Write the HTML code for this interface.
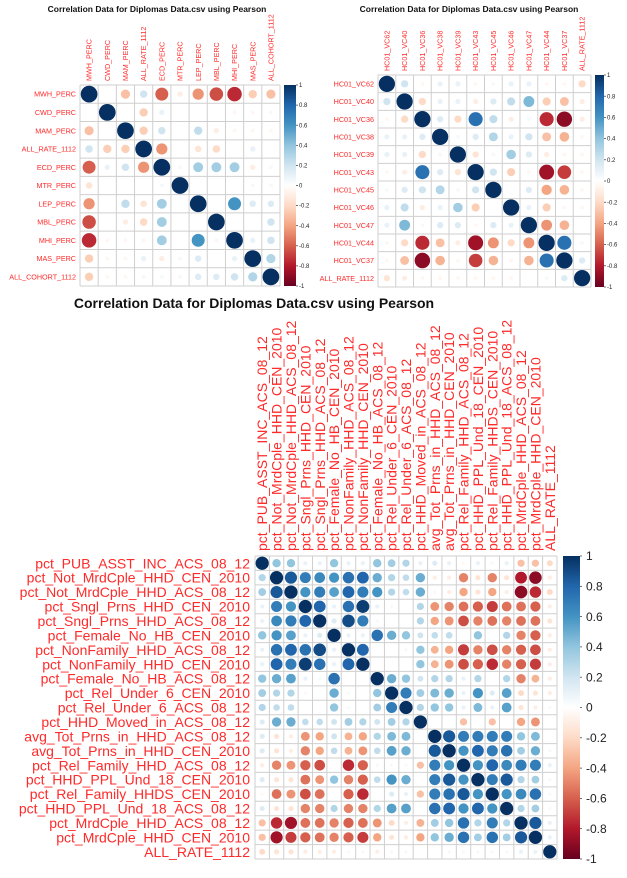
<!DOCTYPE html>
<html><head><meta charset="utf-8">
<style>
html,body{margin:0;padding:0;background:#fff;}
svg{display:block;font-family:"Liberation Sans",Arial,sans-serif;}
</style></head>
<body>
<svg id="root" width="627" height="878" viewBox="0 0 627 878">
<text x="157" y="12" font-size="8.5" font-weight="bold" text-anchor="middle" fill="#111">Correlation Data for Diplomas Data.csv using Pearson</text>
<text x="469" y="12" font-size="8.5" font-weight="bold" text-anchor="middle" fill="#111">Correlation Data for Diplomas Data.csv using Pearson</text>
<text x="254" y="308" font-size="14" font-weight="bold" text-anchor="middle" fill="#111">Correlation Data for Diplomas Data.csv using Pearson</text>
</svg>
<script>
// ---- Chart 1 data ----
const labels1 = ["MWH_PERC","CWD_PERC","MAM_PERC","ALL_RATE_1112","ECD_PERC","MTR_PERC","LEP_PERC","MBL_PERC","MHI_PERC","MAS_PERC","ALL_COHORT_1112"];
const corr1 = [
[1,0,-.3,.2,-.6,-.1,-.45,-.65,-.75,-.25,-.3],
[0,1,0,-.25,.1,0,0,0,-.05,-.05,-.05],
[-.3,0,1,-.25,.2,0,.25,-.1,-.05,-.05,-.05],
[.2,-.25,-.25,1,-.45,0,-.15,-.2,0,.1,0],
[-.6,.1,.2,-.45,1,.05,.35,.35,.35,-.1,.05],
[-.15,0,0,0,.05,1,0,0,0,.05,.05],
[-.45,0,.25,-.15,.35,0,1,0,.6,.15,.15],
[-.65,0,-.1,-.2,.35,0,0,1,0,0,.2],
[-.75,-.05,-.05,-.05,.35,0,.6,-.05,1,.1,.2],
[-.25,-.05,-.05,.1,-.1,.05,.15,0,.1,1,.3],
[-.25,-.05,-.05,.05,.05,.05,.15,.15,.2,.3,1]];
// ---- Chart 2 data ----
const labels2 = ["HC01_VC62","HC01_VC40","HC01_VC36","HC01_VC38","HC01_VC39","HC01_VC43","HC01_VC45","HC01_VC46","HC01_VC47","HC01_VC44","HC01_VC37","ALL_RATE_1112"];
const corr2 = [
[1,.2,-.05,.1,.1,-.05,.05,.1,.1,-.05,-.05,-.2],
[.2,1,-.2,.1,.1,-.1,.15,.25,.45,-.25,-.3,-.1],
[-.05,-.2,1,.15,-.2,.75,.25,-.1,.05,-.75,-.9,-.1],
[.1,.1,.15,1,.05,.15,.3,.1,.2,-.3,-.35,-.05],
[.1,.1,-.2,.05,1,-.15,.05,.35,.15,-.1,-.05,-.05],
[-.05,-.1,.75,.15,-.15,1,.2,-.25,-.05,-.85,-.7,-.05],
[.05,.15,.2,.3,.05,.2,1,0,.15,-.4,-.35,-.05],
[.1,.25,-.1,.1,.35,-.25,0,1,.1,-.25,-.05,-.05],
[.1,.45,.05,.15,.15,-.05,.15,.1,1,-.45,-.35,0],
[-.05,-.2,-.75,-.3,-.1,-.85,-.45,-.2,-.45,1,.75,.05],
[-.05,-.3,-.9,-.35,-.05,-.7,-.35,-.05,-.35,.75,1,.15],
[-.15,-.1,-.05,-.05,-.05,-.05,-.05,-.05,0,.05,.15,1]];
// ---- Chart 3 data ----
const labels3 = ["pct_PUB_ASST_INC_ACS_08_12","pct_Not_MrdCple_HHD_CEN_2010","pct_Not_MrdCple_HHD_ACS_08_12","pct_Sngl_Prns_HHD_CEN_2010","pct_Sngl_Prns_HHD_ACS_08_12","pct_Female_No_HB_CEN_2010","pct_NonFamily_HHD_ACS_08_12","pct_NonFamily_HHD_CEN_2010","pct_Female_No_HB_ACS_08_12","pct_Rel_Under_6_CEN_2010","pct_Rel_Under_6_ACS_08_12","pct_HHD_Moved_in_ACS_08_12","avg_Tot_Prns_in_HHD_ACS_08_12","avg_Tot_Prns_in_HHD_CEN_2010","pct_Rel_Family_HHD_ACS_08_12","pct_HHD_PPL_Und_18_CEN_2010","pct_Rel_Family_HHDS_CEN_2010","pct_HHD_PPL_Und_18_ACS_08_12","pct_MrdCple_HHD_ACS_08_12","pct_MrdCple_HHD_CEN_2010","ALL_RATE_1112"];
const corr3 = [
[1,.4,.4,.1,.1,.4,.1,.1,.4,.35,.3,.1,.15,.1,-.05,.1,-.05,.1,-.3,-.3,-.2],
[.3,1,.85,.7,.65,.6,.75,.8,.5,.3,.25,.5,-.1,-.1,-.5,-.15,-.5,-.15,-.8,-.9,-.1],
[.35,.85,1,.6,.7,.55,.8,.7,.6,.3,.25,.5,-.05,-.1,-.4,-.15,-.4,-.1,-.9,-.75,-.2],
[.1,.7,.6,1,.8,.1,.75,.95,.1,-.05,0,.3,-.45,-.5,-.55,-.6,-.7,-.55,-.55,-.6,-.1],
[.1,.65,.7,.8,1,.15,.9,.7,.05,0,0,.3,-.4,-.45,-.65,-.5,-.55,-.5,-.55,-.55,-.15],
[.4,.6,.55,.1,.15,1,.1,.1,.75,.5,.4,.2,.25,.25,0,.4,0,.3,-.5,-.6,-.1],
[.1,.75,.8,.75,.9,.1,1,.8,0,0,.05,.4,-.35,-.4,-.7,-.5,-.65,-.5,-.6,-.65,-.1],
[.1,.8,.7,.95,.75,.1,.8,1,0,0,0,.4,-.35,-.45,-.65,-.6,-.75,-.5,-.6,-.7,-.1],
[.4,.5,.55,.1,.05,.75,0,0,1,.5,.4,.2,.3,.3,.1,.3,0,.3,-.5,-.35,-.1],
[.35,.3,.3,-.05,0,.5,.05,0,.4,1,.7,.35,.45,.5,.1,.6,.15,.55,-.2,-.15,-.1],
[.3,.25,.25,0,0,.4,.05,0,.35,.7,1,.3,.4,.4,.1,.45,.1,.55,-.15,-.1,-.05],
[.15,.5,.5,.25,.25,.2,.35,.3,.2,.35,.3,1,0,0,-.3,0,-.3,0,-.4,-.45,0],
[.15,-.15,-.1,-.45,-.4,.2,-.35,-.4,.3,.45,.45,0,1,.85,.7,.7,.7,.7,.4,.45,0],
[.15,-.15,-.1,-.5,-.4,.25,-.35,-.45,.25,.55,.5,0,.85,1,.6,.8,.7,.75,.35,.5,.05],
[-.1,-.5,-.45,-.6,-.65,0,-.75,-.6,.05,.05,.05,-.3,.7,.6,1,.6,.8,.65,.7,.7,.1],
[.15,-.15,-.15,-.55,-.45,.4,-.5,-.6,.25,.6,.5,0,.7,.85,.6,1,.7,.85,.3,.35,.05],
[-.05,-.55,-.45,-.65,-.55,0,-.6,-.75,0,.15,.1,-.3,.7,.75,.85,.6,1,.6,.65,.75,.05],
[.15,-.15,-.15,-.5,-.5,.3,-.5,-.5,.3,.55,.55,0,.75,.8,.6,.8,.6,1,.3,.35,.05],
[-.3,-.75,-.85,-.55,-.55,-.5,-.6,-.55,-.45,-.2,-.1,-.35,.35,.4,.75,.3,.7,.3,1,.85,.1],
[-.3,-.85,-.7,-.6,-.55,-.5,-.6,-.7,-.4,-.15,-.1,-.4,.4,.5,.75,.35,.75,.35,.85,1,.1],
[-.2,-.15,-.15,-.1,-.1,-.1,-.05,-.05,-.1,-.05,-.05,0,0,.05,.05,.05,.05,.05,.1,.1,1]];
const colorTicks = [1,0.8,0.6,0.4,0.2,0,-0.2,-0.4,-0.6,-0.8,-1];

const NS="http://www.w3.org/2000/svg";
const root=document.getElementById('root');
const stops=["#67001F","#B2182B","#D6604D","#F4A582","#FDDBC7","#FFFFFF","#D1E5F0","#92C5DE","#4393C3","#2166AC","#053061"];
function hex(h){return [1,3,5].map(i=>parseInt(h.substr(i,2),16));}
function colorOf(v){
  const t=(Math.max(-1,Math.min(1,v))+1)/2*10;
  const i=Math.min(9,Math.floor(t)), f=t-i;
  const a=hex(stops[i]), b=hex(stops[i+1]);
  return "rgb("+a.map((c,k)=>Math.round(c+(b[k]-c)*f)).join(",")+")";
}
function mk(tag,attrs,parent){const e=document.createElementNS(NS,tag);for(const k in attrs)e.setAttribute(k,attrs[k]);(parent||root).appendChild(e);return e;}

function drawCorr(id,labels,corr,g){
  const n=labels.length;
  const cw=(g.x1-g.x0)/n, ch=(g.y1-g.y0)/n;
  const xAt=j=>g.x0+cw*(j+0.5), yAt=i=>g.y0+ch*(i+0.5);
  const grp=mk('g',{});
  
  
  for(let k=0;k<=n;k++){
    const v=mk('line',{x1:g.x0+cw*k,x2:g.x0+cw*k,y1:g.y0,y2:g.y1,stroke:'#cfcfcf','stroke-width':1},grp);
    
    
    const h=mk('line',{x1:g.x0,x2:g.x1,y1:g.y0+ch*k,y2:g.y0+ch*k,stroke:'#cfcfcf','stroke-width':1},grp);
    
    
  }
  for(let i=0;i<n;i++){
    const rl=mk('text',{x:g.x0-g.lpad,y:yAt(i)+g.fs*0.36,'font-size':g.fs,'text-anchor':'end',fill:'#ff2a2a'},grp);
    rl.textContent=labels[i];
    
    
    const cx=xAt(i)+g.fs*0.36, cy=g.y0-g.lpad;
    const cl=mk('text',{x:cx,y:cy,'font-size':g.fs,'text-anchor':'start',fill:'#ff2a2a',transform:'rotate(-90 '+cx+' '+cy+')'},grp);
    cl.textContent=labels[i];
    
    
    for(let j=0;j<n;j++){
      const v=corr[i][j];
      const r=Math.min(cw,ch)/2*0.92*Math.sqrt(Math.abs(v));
      if(r<0.3)continue;
      const c=mk('circle',{cx:xAt(j),cy:yAt(i),r:r,fill:colorOf(v)},grp);
      
      
    }
  }
  const defs=mk('defs',{},grp);
  const lg=mk('linearGradient',{id:id+'grad',x1:0,y1:0,x2:0,y2:1},defs);
  for(let k=0;k<=10;k++) mk('stop',{offset:(k*10)+'%','stop-color':stops[10-k]},lg);
  const bar=mk('rect',{x:g.bx,y:g.y0,width:g.bw,height:g.y1-g.y0,fill:'url(#'+id+'grad)'},grp);
  
  
  colorTicks.forEach(t=>{
    const y=g.y0+(1-t)/2*(g.y1-g.y0);
    mk('line',{x1:g.bx+g.bw,x2:g.bx+g.bw+2,y1:y,y2:y,stroke:'#333','stroke-width':0.7},grp);
    const tl=mk('text',{x:g.bx+g.bw+g.tfs*0.5,y:y+g.tfs*0.35,'font-size':g.tfs,fill:'#222'},grp);
    tl.textContent=(t===1||t===-1||t===0)?String(t):t.toFixed(1);
    
    
  });
}
drawCorr('chart1',labels1,corr1,{x0:80,y0:85,x1:280,y1:286,fs:7.2,lpad:4,bx:284,bw:12,tfs:6});
drawCorr('chart2',labels2,corr2,{x0:378,y0:75,x1:591,y1:287,fs:7.2,lpad:4,bx:595,bw:9,tfs:6});
drawCorr('chart3',labels3,corr3,{x0:255,y0:556,x1:557,y1:859,fs:14,lpad:5,bx:563,bw:17,tfs:12});
</script>
</body></html>
